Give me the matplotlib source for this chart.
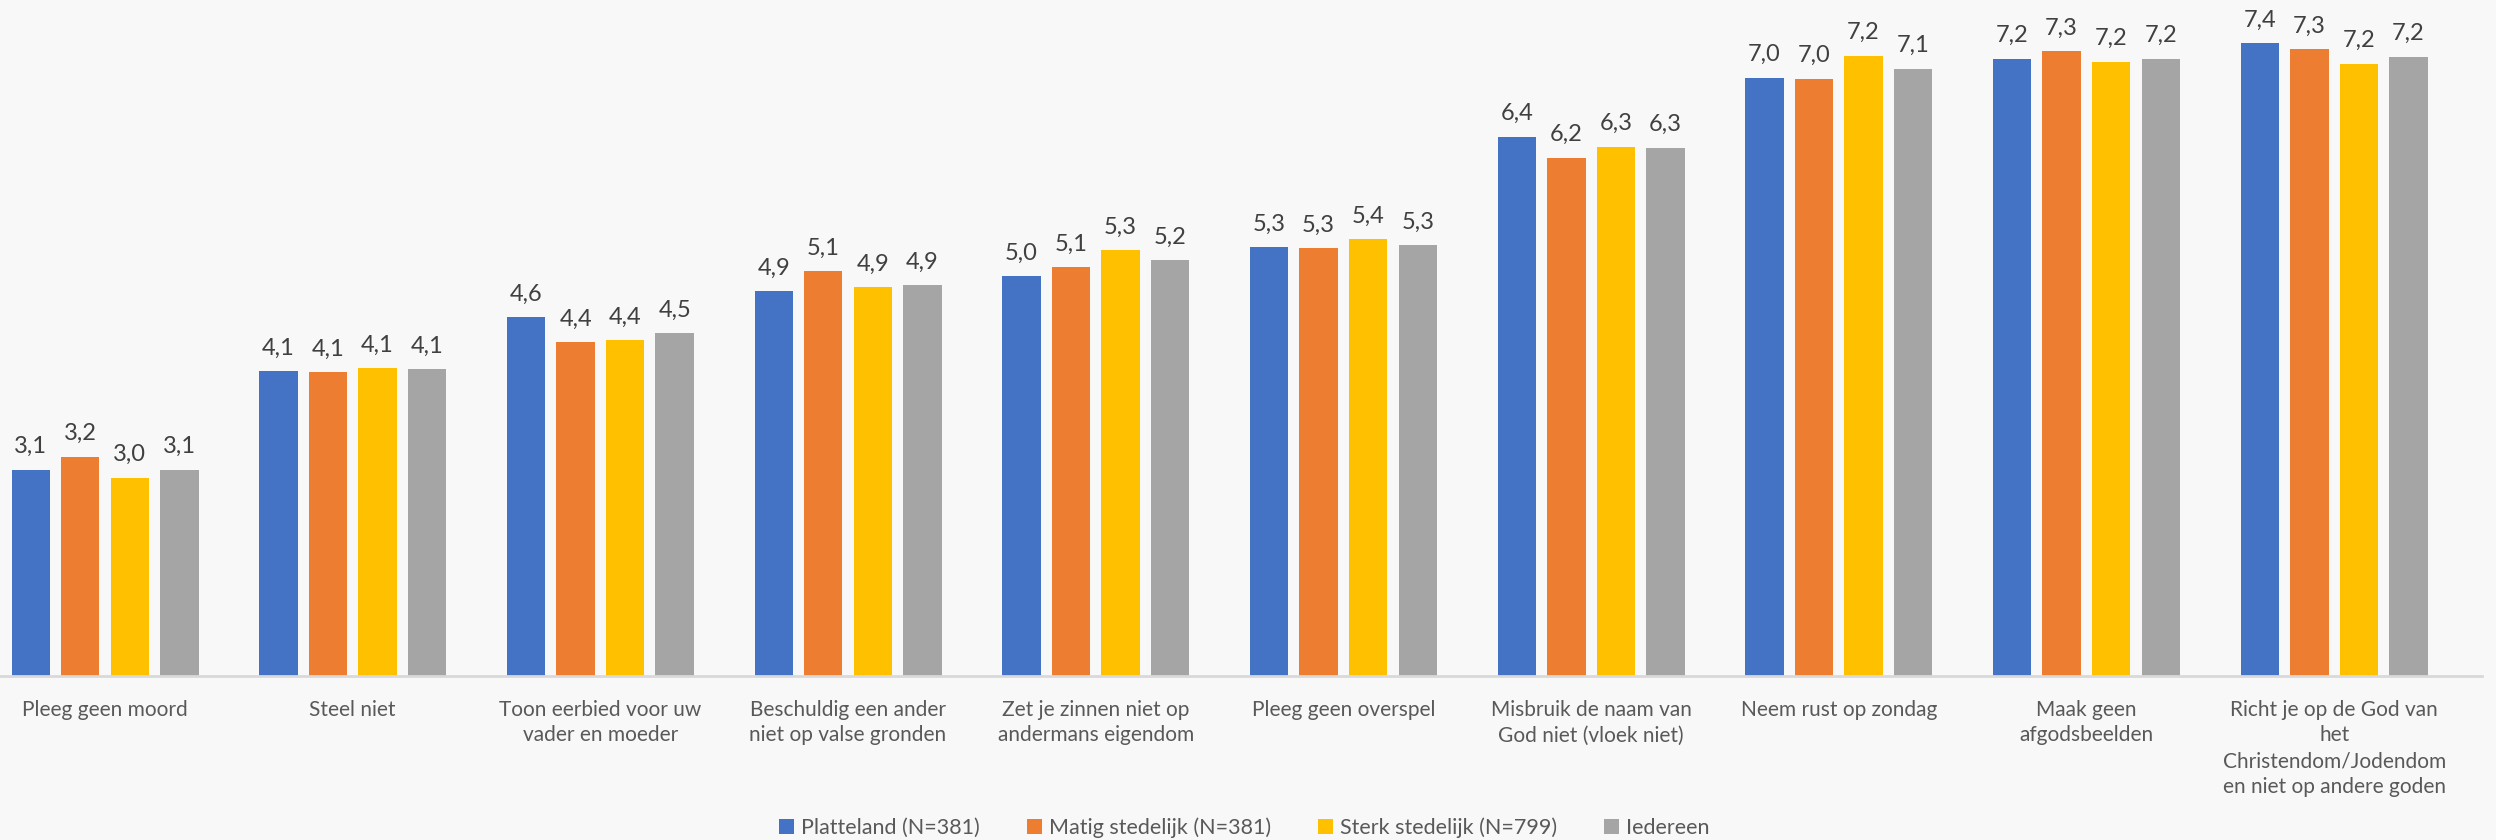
import numpy as np
import matplotlib.pyplot as plt

# categorieen en scores per woonomgeving
categorieen = [
    "Pleeg geen moord",
    "Steel niet",
    "Toon eerbied voor uw\nvader en moeder",
    "Beschuldig een ander\nniet op valse gronden",
    "Zet je zinnen niet op\nandermans eigendom",
    "Pleeg geen overspel",
    "Misbruik de naam van\nGod niet (vloek niet)",
    "Neem rust op zondag",
    "Maak geen\nafgodsbeelden",
    "Richt je op de God van\nhet\nChristendom/Jodendom\nen niet op andere goden",
]
platteland = [3.09, 4.08, 4.62, 4.88, 5.03, 5.32, 6.43, 7.02, 7.21, 7.37]
matig = [3.22, 4.07, 4.37, 5.08, 5.12, 5.31, 6.22, 7.01, 7.29, 7.31]
sterk = [3.01, 4.11, 4.39, 4.92, 5.29, 5.40, 6.33, 7.24, 7.18, 7.16]
iedereen = [3.09, 4.10, 4.46, 4.94, 5.19, 5.34, 6.32, 7.11, 7.21, 7.23]
reeksnamen = ["Platteland (N=381)", "Matig stedelijk (N=381)", "Sterk stedelijk (N=799)", "Iedereen"]
kleuren = ["#4472C4", "#ED7D31", "#FFC000", "#A5A5A5"]

plt.rcParams['font.family'] = ['Lato', 'DejaVu Sans']

fig = plt.figure(figsize=(24.96, 8.4), dpi=100, facecolor="#F8F8F8")
ax = fig.add_axes([0, 0.195, 2482 / 2496, 0.805])
ax.set_facecolor("none")

x = np.arange(len(categorieen))
breedte = 0.155
stap = 0.2
reeksen = [platteland, matig, sterk, iedereen]
for i, waarden in enumerate(reeksen):
    pos = x + (i - 1.5) * stap
    balken = ax.bar(pos, waarden, breedte, bottom=0, color=kleuren[i], label=reeksnamen[i], zorder=2)
    for b, w in zip(balken, waarden):
        ax.annotate(f"{w:.1f}".replace(".", ","), (b.get_x() + b.get_width() / 2, w),
                    xytext=(0, 9), textcoords="offset points", ha="center", va="bottom",
                    fontsize=17, color="#404040")

ax.set_ylim(1.018, 7.80)
ax.set_xlim(-0.424, 9.597)
ax.set_yticks([])
ax.set_xticks(x)
ax.set_xticklabels(categorieen)
ax.tick_params(axis="x", length=0, pad=17, labelsize=15, labelcolor="#595959")
for t in ax.get_xticklabels():
    t.set_linespacing(1.35)
for s in ["top", "right", "left"]:
    ax.spines[s].set_visible(False)
ax.spines["bottom"].set_color("#D9D9D9")
ax.spines["bottom"].set_linewidth(2)

fig.legend(loc="center", bbox_to_anchor=(0.4985, 0.0143), ncol=4, frameon=False,
           fontsize=15.5, handlelength=0.7, handleheight=0.7, handletextpad=0.3,
           columnspacing=2.2, labelcolor="#595959")

fig.savefig("out.png", dpi=100, facecolor=fig.get_facecolor())
